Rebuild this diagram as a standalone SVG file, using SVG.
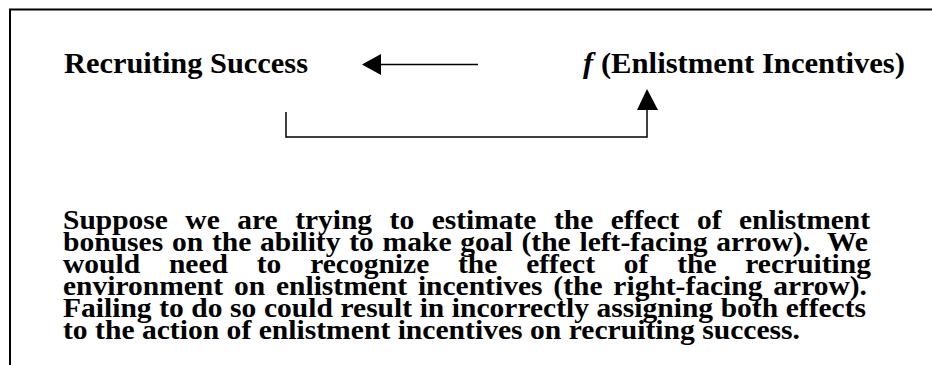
<svg xmlns="http://www.w3.org/2000/svg" width="932" height="365" viewBox="0 0 932 365">
  <style>
    .t { font-family: "Liberation Serif", "Times New Roman", serif; font-weight: bold; fill: #000; }
    .h { font-size: 30px; }
    .b { font-size: 27px; }
    .ln { fill: none; stroke: #000; stroke-width: 1.5; }
  </style>
  <rect x="0" y="0" width="932" height="365" fill="#fff"/>
  <path d="M10,365 V9.5 H932" fill="none" stroke="#000" stroke-width="2"/>

  <g id="recruiting-success">
    <text class="t h" x="64" y="73" textLength="244" lengthAdjust="spacingAndGlyphs">Recruiting Success</text>
  </g>

  <g id="enlistment-incentives">
    <text class="t h" x="583" y="73" textLength="322" lengthAdjust="spacingAndGlyphs"><tspan font-style="italic">f</tspan> (Enlistment Incentives)</text>
  </g>

  <g id="connectors">
    <line class="ln" x1="478" y1="64.5" x2="380" y2="64.5"/>
    <polygon points="362,64.5 381,54 381,75" fill="#000"/>
    <path class="ln" d="M286,112 V137 H647 V109"/>
    <polygon points="647,89 637,110 658,110" fill="#000"/>
  </g>

  <g id="caption">
    <text class="t b" x="63" y="229" word-spacing="9.3" textLength="807" lengthAdjust="spacingAndGlyphs">Suppose we are trying to estimate the effect of enlistment</text>
    <text class="t b" x="63" y="251" word-spacing="1.2" textLength="805" lengthAdjust="spacingAndGlyphs" xml:space="preserve">bonuses on the ability to make goal (the left-facing arrow).  We</text>
    <text class="t b" x="63" y="273" word-spacing="19.6" textLength="808" lengthAdjust="spacingAndGlyphs">would need to recognize the effect of the recruiting</text>
    <text class="t b" x="63" y="295" word-spacing="3.2" textLength="804" lengthAdjust="spacingAndGlyphs">environment on enlistment incentives (the right-facing arrow).</text>
    <text class="t b" x="63" y="317" word-spacing="0.2" textLength="803" lengthAdjust="spacingAndGlyphs">Failing to do so could result in incorrectly assigning both effects</text>
    <text class="t b" x="63" y="339" textLength="737" lengthAdjust="spacingAndGlyphs">to the action of enlistment incentives on recruiting success.</text>
  </g>
</svg>
